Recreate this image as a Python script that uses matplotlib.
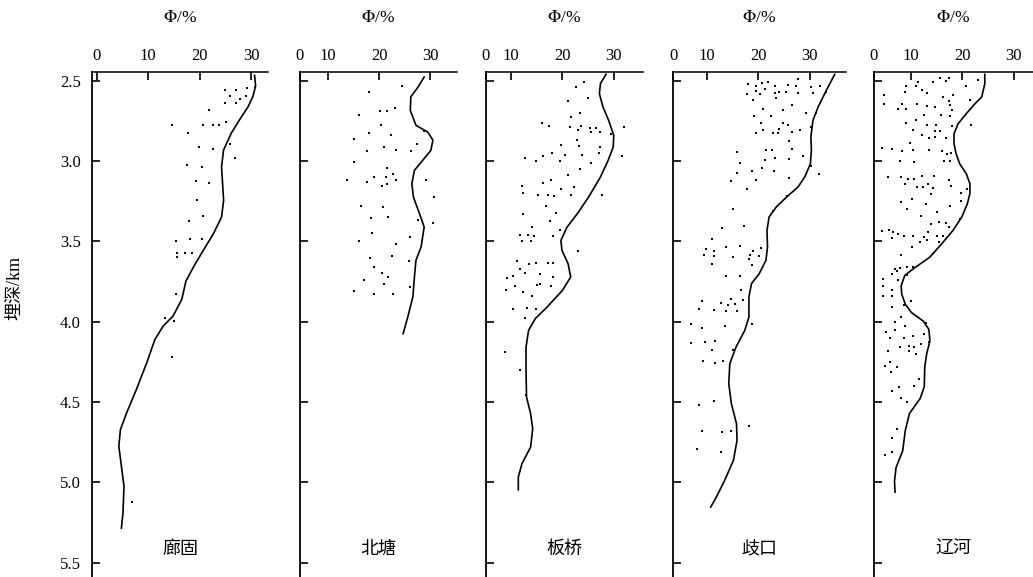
import matplotlib
matplotlib.use('Agg')
import matplotlib.pyplot as plt

plt.rcParams['mathtext.fontset'] = 'stix'
plt.rcParams['xtick.direction'] = 'in'
plt.rcParams['ytick.direction'] = 'in'

# ---------------- data ----------------
panel_names = ['廊固', '北塘', '板桥', '歧口', '辽河']
x_label = r'$\mathit{\Phi}$/%'
y_label = '埋深/km'
x_tick_values = [10, 20, 30]
x_tick_labels = ['0', '10', '20', '30']
y_ticks = [2.5, 3.0, 3.5, 4.0, 4.5, 5.0, 5.5]
y_tick_labels = ['2.5', '3.0', '3.5', '4.0', '4.5', '5.0', '5.5']
# axis start (labelled "0") and end of each panel's porosity axis
x_limits = [(-0.9, 33.2), (4.6, 35.2), (5.1, 35.7), (3.5, 37.0), (2.8, 33.8)]
y_limits = (5.589, 2.446)

# 廊固
lg_phi = [30.7, 29.1, 27.0, 24.9, 25.9, 28.9, 27.7, 24.9, 27.0, 21.8, 14.6, 20.6, 22.5,
          23.7, 25.0, 17.7, 25.9, 19.9, 22.6, 26.8, 17.5, 20.5, 19.2, 21.8, 19.4, 20.7,
          17.9, 18.1, 20.5, 15.4, 15.6, 17.1, 18.5, 15.5, 15.4, 13.2, 15.0, 14.6, 6.9]
lg_depth = [2.54, 2.546, 2.559, 2.559, 2.596, 2.598, 2.617, 2.638, 2.642, 2.68, 2.778, 2.778,
            2.778, 2.778, 2.759, 2.826, 2.893, 2.914, 2.927, 2.983, 3.027, 3.036, 3.126,
            3.134, 3.245, 3.345, 3.372, 3.483, 3.483, 3.5, 3.573, 3.573, 3.573, 3.596,
            3.830, 3.975, 3.996, 4.22, 5.123]
lg_curve_phi = [30.6, 30.8, 30.3, 29.4, 27.7, 26.1, 24.6, 24.2, 24.4, 24.6, 24.2, 22.6, 20.6,
                18.7, 17.3, 16.5, 14.8, 12.9, 11.3, 9.7, 7.7, 5.8, 4.6, 4.3, 4.8, 5.3, 5.1, 4.8]
lg_curve_depth = [2.467, 2.533, 2.596, 2.659, 2.743, 2.826, 2.931, 3.036, 3.14, 3.245, 3.349,
                  3.454, 3.559, 3.663, 3.747, 3.861, 3.965, 4.027, 4.11, 4.256, 4.422, 4.568,
                  4.672, 4.775, 4.9, 5.025, 5.191, 5.285]

# 北塘
bt_phi = [24.5, 18.1, 23.1, 20.1, 21.6, 16.1, 20.3, 18.1, 22.3, 28.7, 15.2, 27.5, 21.0, 17.7,
          23.4, 26.2, 15.1, 21.6, 22.8, 19.0, 21.4, 13.7, 17.7, 23.4, 21.6, 20.5, 29.1, 30.7,
          16.4, 20.7, 21.7, 18.4, 27.6, 30.5, 18.6, 26.1, 16.1, 23.3, 22.5, 18.3, 25.8, 19.0,
          20.6, 21.8, 17.0, 21.0, 26.0, 15.2, 19.0, 22.7]
bt_depth = [2.535, 2.568, 2.67, 2.689, 2.691, 2.714, 2.776, 2.824, 2.838, 2.815, 2.861, 2.896,
            2.911, 2.936, 2.932, 2.940, 3.004, 3.046, 3.079, 3.098, 3.102, 3.118, 3.129, 3.120,
            3.145, 3.158, 3.116, 3.222, 3.278, 3.286, 3.346, 3.355, 3.369, 3.388, 3.448, 3.473,
            3.498, 3.515, 3.589, 3.602, 3.622, 3.660, 3.695, 3.720, 3.741, 3.763, 3.786, 3.807,
            3.826, 3.830]
bt_curve_phi = [28.8, 27.6, 26.2, 26.1, 27.2, 29.5, 30.5, 30.1, 28.5, 26.9, 26.4, 26.7, 27.9,
                28.8, 28.2, 27.2, 26.9, 26.6, 25.6, 24.7]
bt_curve_depth = [2.477, 2.54, 2.60, 2.685, 2.778, 2.82, 2.87, 2.934, 2.996, 3.058, 3.141, 3.224,
                  3.328, 3.411, 3.535, 3.618, 3.722, 3.846, 3.971, 4.075]

# 板桥
bq_phi = [24.2, 22.7, 25.0, 21.1, 23.4, 21.7, 16.0, 17.3, 21.4, 23.6, 25.3, 26.6, 23.1, 25.5,
          27.3, 31.9, 29.5, 22.9, 19.8, 23.2, 27.3, 27.2, 17.9, 20.4, 16.3, 23.8, 31.6, 12.7,
          14.9, 19.5, 25.6, 23.4, 21.1, 17.8, 16.3, 12.1, 22.3, 19.7, 12.3, 15.3, 17.2, 18.4,
          21.6, 27.7, 16.7, 18.8, 12.3, 17.5, 14.1, 19.6, 11.8, 13.2, 14.4, 18.2, 12.1, 13.9,
          23.0, 11.1, 13.4, 14.8, 17.1, 18.2, 11.8, 12.7, 15.6, 9.1, 10.3, 18.1, 10.7, 15.1,
          15.6, 17.7, 9.0, 12.4, 14.0, 10.3, 13.1, 14.8, 12.7, 8.9, 11.8, 12.8]
bq_depth = [2.508, 2.537, 2.606, 2.629, 2.699, 2.726, 2.761, 2.782, 2.788, 2.784, 2.795, 2.795,
            2.809, 2.822, 2.822, 2.786, 2.830, 2.871, 2.898, 2.909, 2.913, 2.948, 2.952, 2.963,
            2.969, 2.961, 2.969, 2.983, 3.002, 3.0, 3.010, 3.048, 3.085, 3.120, 3.137, 3.158,
            3.160, 3.172, 3.197, 3.214, 3.214, 3.220, 3.214, 3.210, 3.282, 3.322, 3.328, 3.371,
            3.411, 3.427, 3.458, 3.458, 3.465, 3.467, 3.498, 3.500, 3.558, 3.624, 3.643, 3.635,
            3.635, 3.635, 3.670, 3.699, 3.701, 3.726, 3.716, 3.722, 3.778, 3.774, 3.768, 3.780,
            3.803, 3.817, 3.840, 3.921, 3.913, 3.923, 3.975, 4.189, 4.303, 4.459]
bq_curve_phi = [28.5, 27.4, 27.2, 27.9, 29.0, 30.0, 29.9, 28.9, 27.4, 25.1, 22.9, 20.9, 19.7,
                19.9, 21.1, 21.6, 20.0, 17.0, 14.7, 13.4, 12.9, 12.9, 13.0, 13.8, 14.2, 13.8,
                12.1, 11.4, 11.4]
bq_curve_depth = [2.46, 2.519, 2.581, 2.664, 2.747, 2.84, 2.913, 2.996, 3.1, 3.224, 3.328,
                  3.411, 3.494, 3.556, 3.639, 3.722, 3.805, 3.909, 3.981, 4.054, 4.158, 4.303,
                  4.469, 4.573, 4.666, 4.780, 4.884, 4.967, 5.046]

# 歧口
qk_phi = [27.7, 18.1, 19.6, 20.8, 21.9, 23.2, 25.7, 27.3, 30.3, 32.0, 17.9, 19.5, 20.4, 21.3,
          23.2, 24.1, 25.4, 23.5, 27.8, 30.6, 33.2, 19.0, 26.6, 20.9, 24.8, 29.3, 31.1, 19.2,
          22.4, 20.5, 24.8, 25.7, 24.0, 21.0, 19.5, 22.9, 23.9, 26.6, 28.1, 30.3, 25.9, 26.6,
          21.5, 22.7, 15.8, 28.6, 21.4, 23.2, 25.9, 16.4, 20.8, 30.3, 18.8, 23.1, 31.7, 15.9,
          25.9, 14.7, 19.6, 17.8, 25.5, 15.2, 22.8, 17.3, 13.0, 11.0, 9.8, 9.5, 11.4, 11.4,
          13.8, 16.5, 15.1, 18.5, 20.5, 18.9, 18.2, 20.1, 18.8, 11.1, 13.7, 16.5, 16.6, 17.0,
          14.8, 12.8, 14.1, 15.5, 9.2, 8.5, 11.5, 13.7, 15.9, 7.0, 9.2, 13.6, 18.8, 7.0, 9.7,
          11.7, 11.1, 15.2, 9.4, 11.7, 13.2, 8.6, 11.4, 9.2, 12.9, 14.8, 18.3, 8.1, 12.8]
qk_depth = [2.492, 2.523, 2.531, 2.515, 2.510, 2.533, 2.525, 2.531, 2.539, 2.535, 2.581, 2.566,
            2.585, 2.550, 2.577, 2.568, 2.568, 2.606, 2.575, 2.575, 2.571, 2.622, 2.651, 2.676,
            2.685, 2.703, 2.699, 2.718, 2.720, 2.761, 2.761, 2.778, 2.799, 2.805, 2.824, 2.828,
            2.826, 2.822, 2.807, 2.788, 2.873, 2.925, 2.934, 2.934, 2.946, 2.969, 2.992, 2.983,
            2.990, 3.015, 3.041, 3.033, 3.062, 3.064, 3.081, 3.077, 3.108, 3.122, 3.118, 3.176,
            3.220, 3.297, 3.313, 3.402, 3.419, 3.483, 3.548, 3.583, 3.558, 3.589, 3.537, 3.529,
            3.598, 3.585, 3.544, 3.560, 3.610, 3.591, 3.645, 3.641, 3.718, 3.718, 3.801, 3.863,
            3.857, 3.882, 3.894, 3.888, 3.871, 3.919, 3.925, 3.934, 3.934, 4.015, 4.041, 4.025,
            4.012, 4.131, 4.129, 4.120, 4.174, 4.178, 4.245, 4.259, 4.245, 4.519, 4.494, 4.683,
            4.685, 4.680, 4.651, 4.795, 4.813]
qk_curve_phi = [34.8, 33.2, 31.6, 30.6, 30.2, 30.3, 30.1, 29.0, 27.7, 25.5, 23.5, 22.1, 21.7,
                21.8, 21.5, 20.2, 18.7, 18.2, 18.2, 17.4, 15.7, 14.5, 14.3, 14.8, 15.8, 15.9,
                15.2, 13.5, 11.9, 10.8]
qk_curve_depth = [2.461, 2.56, 2.664, 2.747, 2.851, 2.934, 3.017, 3.1, 3.162, 3.224, 3.286,
                  3.349, 3.432, 3.535, 3.618, 3.701, 3.763, 3.846, 3.971, 4.054, 4.158, 4.261,
                  4.386, 4.510, 4.635, 4.739, 4.863, 4.988, 5.091, 5.154]

# 辽河
lh_phi = [15.6, 17.5, 16.9, 14.3, 11.4, 23.1, 9.1, 10.9, 20.7, 12.1, 8.8, 13.1, 4.7, 18.2,
          16.2, 21.5, 17.5, 4.7, 8.2, 11.2, 17.7, 13.1, 14.6, 7.5, 9.0, 18.1, 12.5, 15.8, 17.6,
          11.0, 9.1, 13.1, 14.9, 18.1, 21.7, 10.5, 14.7, 15.6, 12.2, 13.5, 14.7, 16.9, 9.8,
          4.3, 6.4, 8.2, 10.5, 13.6, 16.0, 17.1, 17.9, 16.4, 17.7, 7.9, 10.6, 5.5, 8.0, 9.5,
          10.6, 12.2, 14.5, 8.9, 11.2, 12.4, 13.4, 14.3, 17.5, 17.8, 20.9, 14.0, 19.8, 19.8,
          10.2, 8.1, 12.9, 9.3, 17.6, 15.1, 11.9, 19.5, 14.0, 15.5, 16.8, 17.5, 4.4, 5.7, 6.6,
          7.5, 13.4, 6.3, 8.7, 10.5, 12.5, 15.0, 16.2, 13.1, 11.8, 15.5, 10.3, 8.1, 6.9, 7.9,
          9.2, 10.4, 6.3, 7.2, 4.6, 7.5, 4.6, 9.3,
          6.4, 4.6, 6.4, 10.1, 8.6, 6.4, 8.1, 6.9, 8.8, 12.9, 5.1, 6.9, 12.5, 5.9, 8.6, 10.5,
          13.5, 11.9, 7.9, 9.6, 10.6, 9.7, 10.9, 5.6, 5.9, 4.9, 7.3, 6.1, 11.6, 10.6, 7.7, 6.3,
          8.1, 9.3, 7.3, 6.4, 4.9, 6.4]
lh_depth = [2.485, 2.485, 2.504, 2.506, 2.506, 2.494, 2.535, 2.535, 2.535, 2.556, 2.573, 2.577,
            2.589, 2.589, 2.602, 2.618, 2.624, 2.645, 2.645, 2.643, 2.654, 2.658, 2.664, 2.678,
            2.678, 2.680, 2.712, 2.714, 2.718, 2.743, 2.766, 2.778, 2.778, 2.782, 2.778, 2.807,
            2.811, 2.815, 2.838, 2.855, 2.851, 2.857, 2.890, 2.917, 2.923, 2.936, 2.932, 2.929,
            2.938, 2.959, 2.952, 3.0, 3.0, 2.998, 3.008, 3.098, 3.102, 3.110, 3.114, 3.093,
            3.093, 3.143, 3.160, 3.164, 3.141, 3.168, 3.116, 3.158, 3.172, 3.207, 3.197, 3.249,
            3.239, 3.257, 3.266, 3.299, 3.280, 3.315, 3.344, 3.363, 3.390, 3.382, 3.384, 3.411,
            3.438, 3.432, 3.444, 3.454, 3.442, 3.477, 3.469, 3.467, 3.473, 3.469, 3.469, 3.490,
            3.504, 3.506, 3.537, 3.587, 3.674, 3.668, 3.660, 3.660, 3.705, 3.687, 3.736, 3.741,
            3.776, 3.71,
            3.80, 3.841, 3.841, 3.872, 3.897, 3.910, 3.973, 4.004, 4.027, 4.010, 4.065, 4.052,
            4.075, 4.10, 4.10, 4.09, 4.124, 4.140, 4.157, 4.149, 4.157, 4.182, 4.199, 4.180,
            4.249, 4.277, 4.279, 4.314, 4.354, 4.398, 4.405, 4.434, 4.474, 4.501, 4.669, 4.721,
            4.832, 4.813]
lh_curve_phi = [24.4, 24.4, 23.8, 22.5, 20.8, 19.2, 18.4, 18.4, 18.8, 19.5, 20.8, 21.5, 21.5,
                21.0, 19.9, 18.2, 16.0, 13.7, 10.5, 8.8, 8.1, 8.2, 8.9, 10.1, 12.4, 13.5, 13.7,
                13.1, 12.7, 12.6, 11.8, 9.7, 8.9, 8.4, 7.1, 6.8, 6.9]
lh_curve_depth = [2.461, 2.519, 2.602, 2.643, 2.705, 2.768, 2.830, 2.892, 2.954, 3.017, 3.079,
                  3.141, 3.203, 3.266, 3.349, 3.432, 3.515, 3.598, 3.670, 3.712, 3.776, 3.828,
                  3.891, 3.943, 3.996, 4.048, 4.122, 4.195, 4.279, 4.405, 4.478, 4.572, 4.677,
                  4.803, 4.908, 4.992, 5.061]

points = [(lg_phi, lg_depth), (bt_phi, bt_depth), (bq_phi, bq_depth),
          (qk_phi, qk_depth), (lh_phi, lh_depth)]
curves = [(lg_curve_phi, lg_curve_depth), (bt_curve_phi, bt_curve_depth),
          (bq_curve_phi, bq_curve_depth), (qk_curve_phi, qk_curve_depth),
          (lh_curve_phi, lh_curve_depth)]

# ---------------- layout ----------------
W, H = 1033, 577
fig = plt.figure(figsize=(W / 100, H / 100), dpi=100)
lefts = [92, 300, 486, 673, 874]
rights = [268, 457, 643, 846, 1033]
top_px, bottom_px = 72, 577

serif = 'Liberation Serif'
cjk = ['Noto Sans CJK SC', 'DejaVu Sans']

for i in range(5):
    l, r = lefts[i], rights[i]
    ax = fig.add_axes([l / W, 1 - bottom_px / H, (r - l) / W, (bottom_px - top_px) / H])
    px, py = points[i]
    cx, cy = curves[i]
    ax.scatter(px, py, s=4, color='black', marker='s', linewidths=0, zorder=3)
    ax.plot(cx, cy, color='black', lw=1.2, zorder=2)

    xl = x_limits[i]
    ax.set_xlim(*xl)
    ax.set_ylim(*y_limits)

    for s in ['right', 'bottom']:
        ax.spines[s].set_visible(False)
    ax.spines['left'].set_linewidth(1.3)
    ax.spines['top'].set_linewidth(1.1)

    ax.xaxis.set_ticks_position('top')
    ax.xaxis.set_label_position('top')
    first = 0 if i == 0 else xl[0]
    ax.set_xticks([first] + x_tick_values)
    ax.set_xticklabels(x_tick_labels, fontfamily=serif, fontsize=12)
    ax.tick_params(axis='x', which='both', direction='in', length=6, width=1.2, pad=6,
                   top=True, bottom=False, labeltop=True, labelbottom=False)

    ax.set_yticks(y_ticks)
    if i == 0:
        ax.set_yticklabels(y_tick_labels, fontfamily=serif, fontsize=12)
    else:
        ax.set_yticklabels([])
    ax.tick_params(axis='y', which='both', direction='in', length=6, width=1.2, pad=8,
                   left=True, right=False)

    ax.text(0.5, 1 + (top_px - 18) / (bottom_px - top_px), x_label, transform=ax.transAxes,
            ha='center', va='center', fontsize=12.5, fontfamily=serif)
    ax.text(0.5, (bottom_px - 549) / (bottom_px - top_px), panel_names[i],
            transform=ax.transAxes, ha='center', va='center', fontsize=13, family=cjk)

fig.text(15 / W, 1 - 288 / H, y_label, rotation=90, ha='center', va='center',
         fontsize=13, family=['Liberation Serif', 'Noto Sans CJK SC'])

fig.savefig('out.png', dpi=100)
